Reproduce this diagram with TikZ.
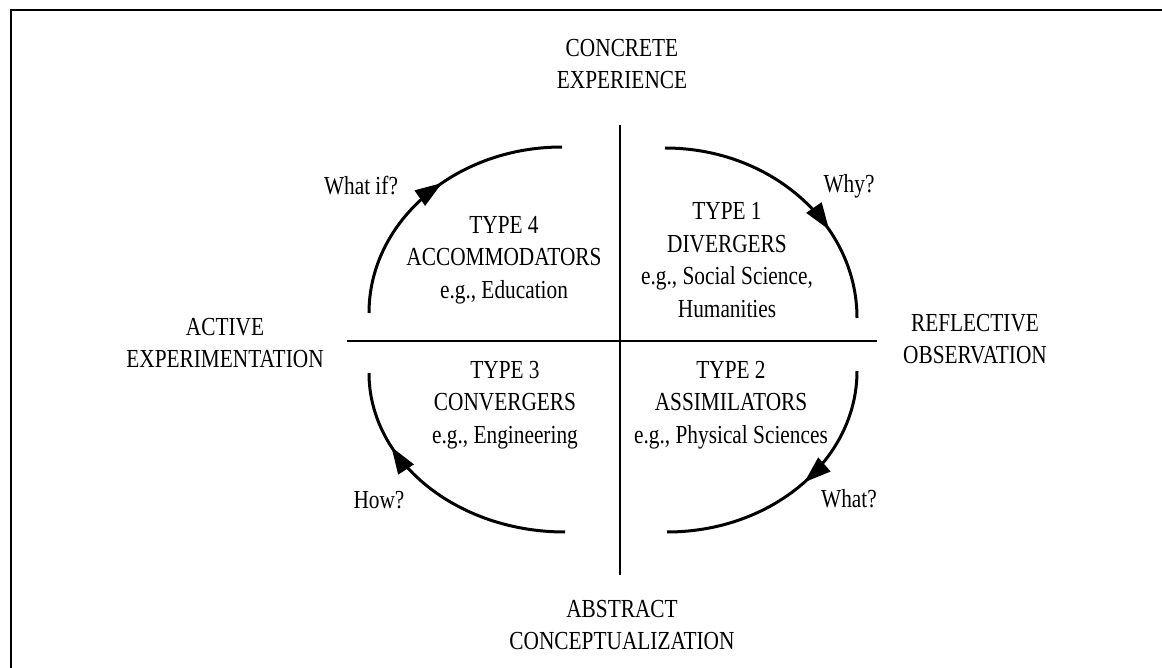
\documentclass[tikz,border=0pt]{standalone}
\usepackage{fontspec}
\setmainfont{Liberation Serif}[FakeStretch=0.82]
\usetikzlibrary{decorations.markings,arrows.meta}
\begin{document}
\begin{tikzpicture}[x=1pt,y=-1pt,
  every node/.style={font=\fontsize{26}{32.5}\selectfont, inner sep=0pt},
  lbl/.style={align=center},
  frameline/.style={line width=2.5pt},
  axisline/.style={line width=2pt},
  cyc/.style={line width=3pt},
  arrowmark/.style={postaction={decorate}, decoration={markings,
      mark=at position #1 with {\arrow{Triangle[length=27pt,width=18pt]}}}}]
\useasboundingbox (0,0) rectangle (1162,668);
% frame (right and bottom edges lie outside the picture)
\coordinate (fbl) at (11,668);
\coordinate (ftl) at (11,10);
\coordinate (ftr) at (1162,10);
\draw[frameline] (fbl) -- (ftl) -- (ftr);
% axes
\coordinate (vt) at (620,125);
\coordinate (vb) at (620,575);
\coordinate (hl) at (347,341);
\coordinate (hr) at (877,341);
\draw[axisline] (vt) -- (vb);
\draw[axisline] (hl) -- (hr);
% poles
\node[lbl] (ce) at (622,64) {CONCRETE\\EXPERIENCE};
\node[lbl] (ae) at (225,343) {ACTIVE\\EXPERIMENTATION};
\node[lbl] (ro) at (975,339) {REFLECTIVE\\OBSERVATION};
\node[lbl] (ac) at (622,625) {ABSTRACT\\CONCEPTUALIZATION};
% quadrants
\node[lbl] (t4) at (504,260) {TYPE 4\\ACCOMMODATORS\\e.g., Education};
\node[lbl] (t1) at (727,260) {TYPE 1\\DIVERGERS\\e.g., Social Science,\\Humanities};
\node[lbl] (t2) at (731,405) {TYPE 2\\ASSIMILATORS\\e.g., Physical Sciences};
\node[lbl] (t3) at (505,405) {TYPE 3\\CONVERGERS\\e.g., Engineering};
% questions
\node[anchor=base] (qwi) at (361,195) {What if?};
\node[anchor=base] (qwy) at (849,193) {Why?};
\node[anchor=base] (qho) at (379,508) {How?};
\node[anchor=base] (qwa) at (849,507) {What?};
% cycle arcs
\coordinate (tls) at (369,313);
\coordinate (trs) at (665,148);
\coordinate (brs) at (857,371);
\coordinate (bls) at (565,532);
\draw[cyc, arrowmark=0.55] (tls) arc[start angle=180, end angle=90, x radius=193pt, y radius=166pt];
\draw[cyc, arrowmark=0.67] (trs) arc[start angle=90, end angle=0, x radius=192pt, y radius=170pt];
\draw[cyc, arrowmark=0.46] (brs) arc[start angle=0, end angle=-90, x radius=190pt, y radius=161pt];
\draw[cyc, arrowmark=0.72] (bls) arc[start angle=-90, end angle=-180, x radius=196pt, y radius=159pt];
\end{tikzpicture}
\end{document}
